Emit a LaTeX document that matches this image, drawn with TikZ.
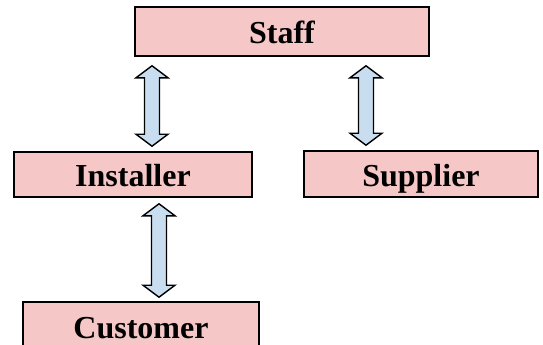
\documentclass[tikz,border=0pt]{standalone}
\usepackage{fontspec}
\setmainfont{Liberation Serif}
\usetikzlibrary{calc}
\definecolor{boxpink}{RGB}{245,199,199}
\definecolor{arrowblue}{RGB}{200,222,240}
\tikzset{
  entity/.style={draw=black,line width=1.6pt,fill=boxpink,inner sep=0pt,
    text height=24pt,text depth=0pt,
    font=\fontsize{32}{32}\selectfont\bfseries},
  dblarrow/.style={draw=black,line width=1.4pt,fill=arrowblue,line join=miter,
    to path={let \p1=(\tikztostart), \p2=(\tikztotarget) in
      (\x1,\y1) -- (\x1+16,\y1-12) -- (\x1+7.5,\y1-12) -- (\x2+7.5,\y2+12)
      -- (\x2+16,\y2+12) -- (\x2,\y2) -- (\x2-16,\y2+12) -- (\x2-7.5,\y2+12)
      -- (\x1-7.5,\y1-12) -- (\x1-16,\y1-12) -- cycle}}
}
\begin{document}
\begin{tikzpicture}[x=1pt,y=1pt]
  \useasboundingbox (0,0) rectangle (543,-345);
  \clip (0,0) rectangle (543,-345);
  \node[entity,minimum width=294pt,minimum height=49pt] (staff) at (282,-31.5) {Staff};
  \node[entity,minimum width=238pt,minimum height=45pt] (installer) at (133,-174.5) {Installer};
  \node[entity,minimum width=234pt,minimum height=46pt] (supplier) at (421,-174) {Supplier};
  \node[entity,minimum width=236pt,minimum height=48pt] (customer) at (141,-326) {Customer};
  \coordinate (ia) at ([xshift=19pt,yshift=5pt]installer.north);
  \coordinate (sa) at ([xshift=-55pt,yshift=5pt]supplier.north);
  \coordinate (ca) at ([xshift=18pt,yshift=4pt]customer.north);
  \draw[dblarrow] ($(staff.south -| ia)+(0,-9)$) to (ia);
  \draw[dblarrow] ($(staff.south -| sa)+(0,-9)$) to (sa);
  \draw[dblarrow] ($(installer.south -| ca)+(0,-6)$) to (ca);
\end{tikzpicture}
\end{document}
